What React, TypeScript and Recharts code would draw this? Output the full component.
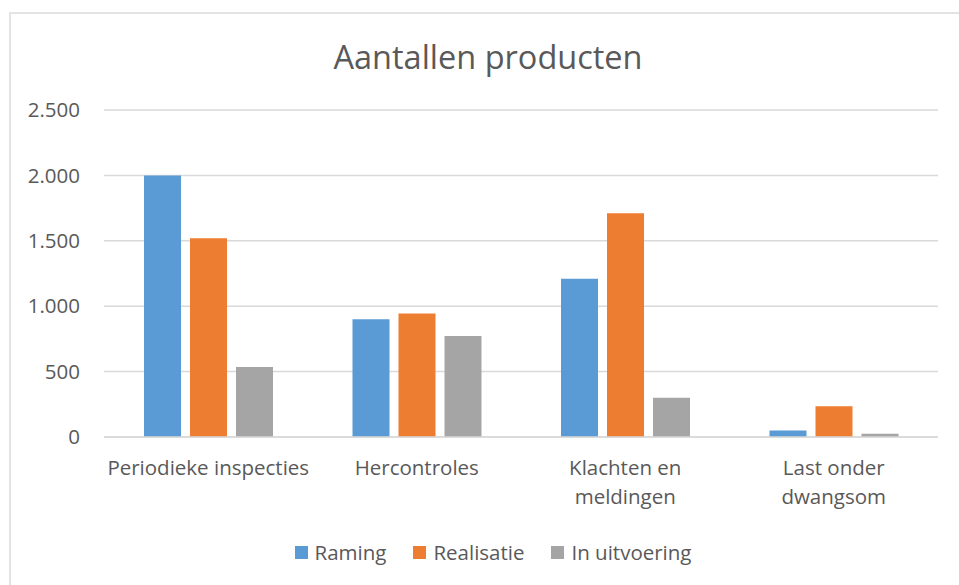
import { BarChart, Bar, XAxis, YAxis, CartesianGrid, Legend } from "recharts";

const categories = ["Periodieke inspecties", "Hercontroles", "Klachten en meldingen", "Last onder dwangsom"];
const categoryLines = [["Periodieke inspecties"], ["Hercontroles"], ["Klachten en", "meldingen"], ["Last onder", "dwangsom"]];
const raming = [2000, 900, 1210, 50];
const realisatie = [1520, 945, 1710, 235];
const inUitvoering = [535, 773, 300, 25];
const yTicks = [0, 500, 1000, 1500, 2000, 2500];

const seriesInfo = [
  { key: "raming", name: "Raming", color: "#5B9BD5" },
  { key: "realisatie", name: "Realisatie", color: "#ED7D31" },
  { key: "inUitvoering", name: "In uitvoering", color: "#A5A5A5" },
];

const data = categories.map((c, i) => ({
  category: c,
  raming: raming[i],
  realisatie: realisatie[i],
  inUitvoering: inUitvoering[i],
}));

const FONT = "'Open Sans', sans-serif";
const TEXT = "#595959";
const FS = 20.5;

const formatNl = (v: number) => String(v).replace(/\B(?=(\d{3})+(?!\d))/g, ".");

function CategoryTick(props: any) {
  const { x, y, payload } = props;
  const lines = categoryLines[payload.index] || [payload.value];
  return (
    <text x={x} y={y} textAnchor="middle" fill={TEXT} fontSize={FS} fontFamily={FONT}>
      {lines.map((l: string, i: number) => (
        <tspan key={i} x={x} dy={i === 0 ? 38 : 29}>
          {l}
        </tspan>
      ))}
    </text>
  );
}

function LegendContent() {
  return (
    <div
      style={{
        display: "flex",
        justifyContent: "center",
        alignItems: "center",
        height: 28,
        paddingLeft: 27,
        fontFamily: FONT,
        fontSize: FS,
        color: TEXT,
      }}
    >
      {seriesInfo.map((s, i) => (
        <div
          key={s.key}
          style={{ display: "flex", alignItems: "center", marginRight: i < seriesInfo.length - 1 ? 27 : 0 }}
        >
          <span style={{ width: 13, height: 13, background: s.color, marginRight: 7, display: "inline-block" }} />
          <span>{s.name}</span>
        </div>
      ))}
    </div>
  );
}

export default function App() {
  return (
    <div style={{ position: "absolute", left: 0, top: 0, width: 959, height: 585, background: "#fff", overflow: "hidden" }}>
      <div
        style={{
          position: "absolute",
          left: 9,
          top: 12,
          width: 960,
          height: 580,
          border: "2px solid #e3e3e3",
          boxSizing: "border-box",
        }}
      />
      <div
        style={{
          position: "absolute",
          left: 0,
          top: 34,
          width: 976,
          textAlign: "center",
          fontFamily: FONT,
          fontSize: 32.5,
          color: TEXT,
          zIndex: 2,
        }}
      >
        Aantallen producten
      </div>
      <BarChart
        width={959}
        height={585}
        data={data}
        margin={{ top: 110, right: 21, left: 0, bottom: 0 }}
        barSize={37}
        barGap={9}
      >
        <CartesianGrid vertical={false} stroke="#d9d9d9" strokeWidth={1.5} />
        <XAxis
          dataKey="category"
          tick={<CategoryTick />}
          tickLine={false}
          tickSize={0}
          tickMargin={0}
          axisLine={{ stroke: "#d9d9d9", strokeWidth: 1.5 }}
          height={120}
          interval={0}
        />
        <YAxis
          domain={[0, 2500]}
          ticks={yTicks}
          tickFormatter={formatNl}
          axisLine={false}
          tickLine={false}
          tickSize={0}
          tickMargin={24}
          width={104}
          tick={{ fill: TEXT, fontSize: FS, fontFamily: FONT }}
        />
        <Legend
          verticalAlign="bottom"
          content={<LegendContent />}
          wrapperStyle={{ top: 538, bottom: "auto", left: 0, width: 959 }}
        />
        {seriesInfo.map((s) => (
          <Bar key={s.key} dataKey={s.key} name={s.name} fill={s.color} isAnimationActive={false} />
        ))}
      </BarChart>
    </div>
  );
}
